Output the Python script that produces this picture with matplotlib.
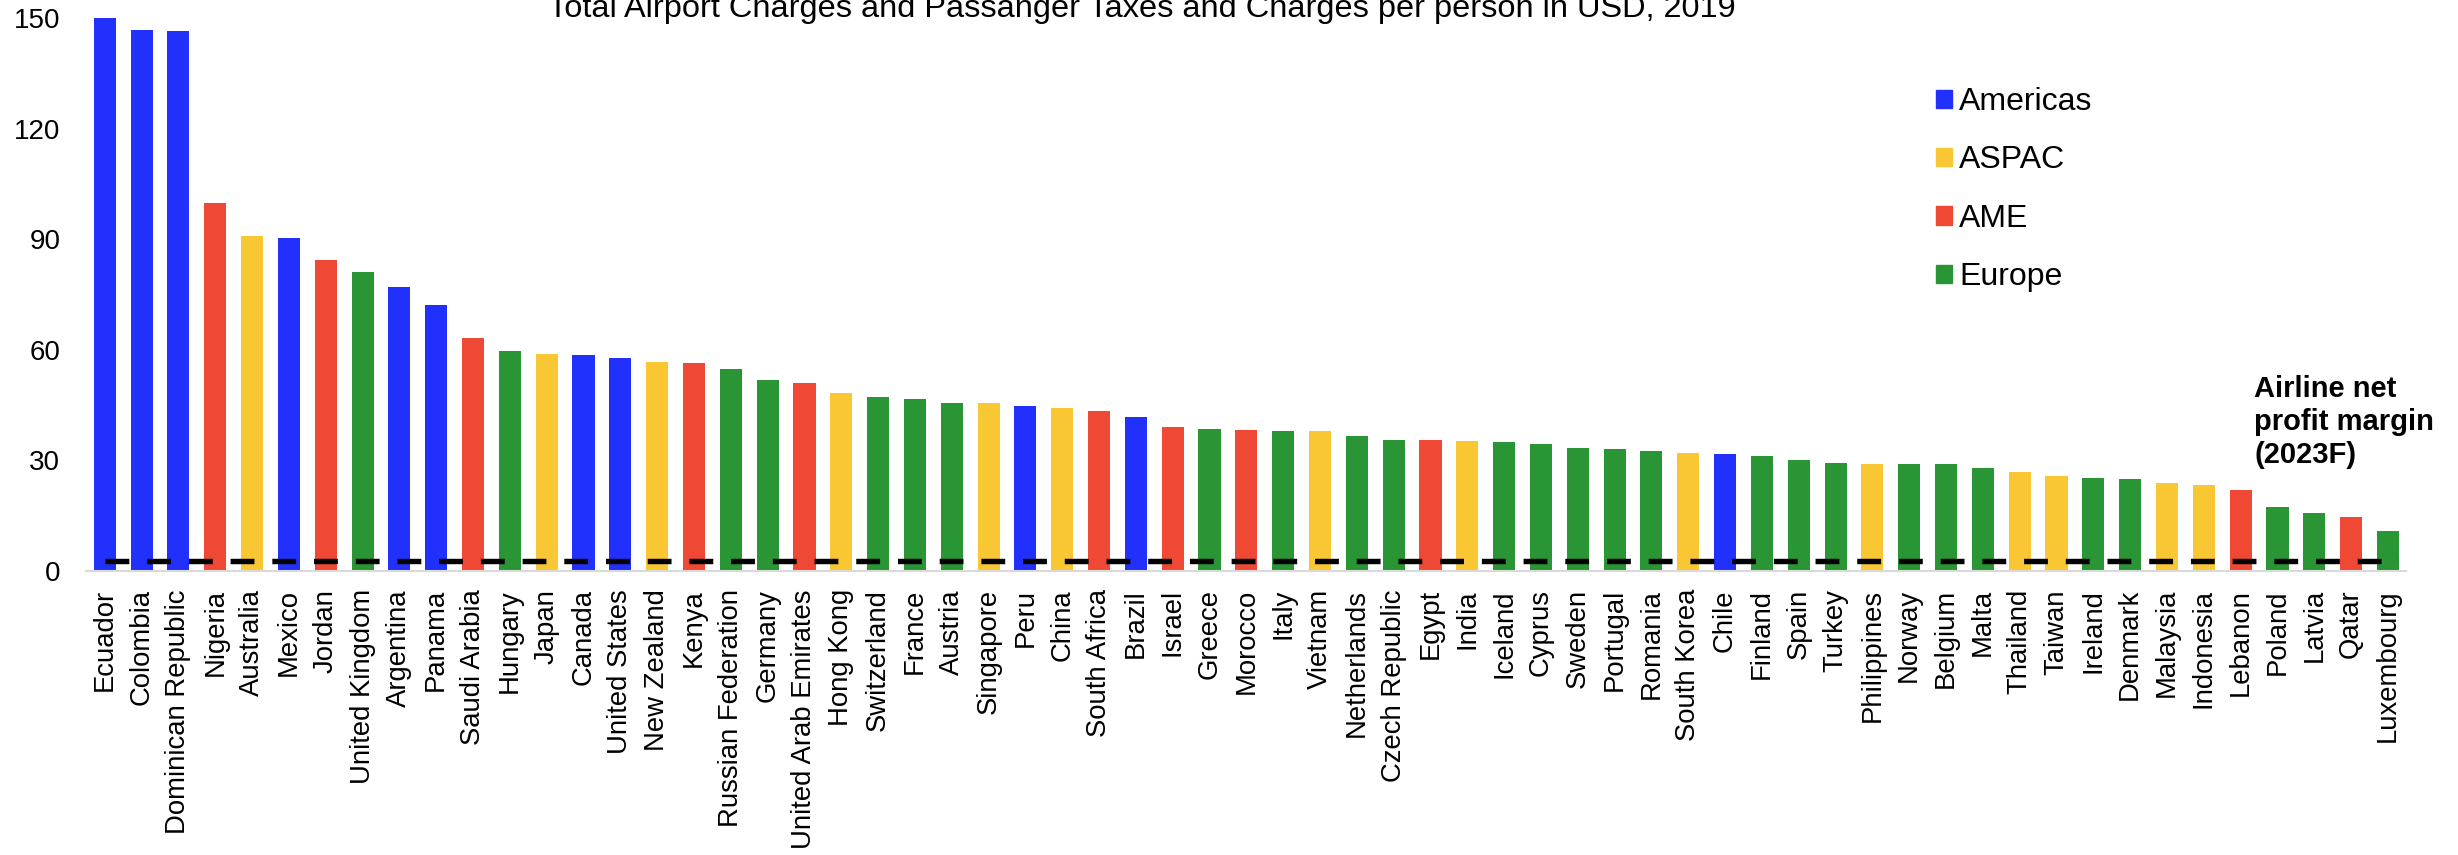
import matplotlib
matplotlib.use("Agg")
import matplotlib.pyplot as plt
import matplotlib.patches as mpatches
import numpy as np

plt.rcParams['font.family'] = ['Liberation Sans', 'DejaVu Sans']

# ─────────────────────────────────────────────────────────────
# data
# ─────────────────────────────────────────────────────────────
countries = [
    "Ecuador", "Colombia", "Dominican Republic", "Nigeria", "Australia",
    "Mexico", "Jordan", "United Kingdom", "Argentina", "Panama",
    "Saudi Arabia", "Hungary", "Japan", "Canada", "United States",
    "New Zealand", "Kenya", "Russian Federation", "Germany", "United Arab Emirates",
    "Hong Kong", "Switzerland", "France", "Austria", "Singapore",
    "Peru", "China", "South Africa", "Brazil", "Israel",
    "Greece", "Morocco", "Italy", "Vietnam", "Netherlands",
    "Czech Republic", "Egypt", "India", "Iceland", "Cyprus",
    "Sweden", "Portugal", "Romania", "South Korea", "Chile",
    "Finland", "Spain", "Turkey", "Philippines", "Norway",
    "Belgium", "Malta", "Thailand", "Taiwan", "Ireland",
    "Denmark", "Malaysia", "Indonesia", "Lebanon", "Poland",
    "Latvia", "Qatar", "Luxembourg",
]

charges = [
    150.0, 146.7, 146.5, 99.7, 90.8,
    90.3, 84.4, 81.0, 77.0, 72.2,
    63.1, 59.8, 58.8, 58.5, 57.8,
    56.7, 56.5, 54.9, 51.9, 51.1,
    48.3, 47.1, 46.7, 45.6, 45.5,
    44.8, 44.2, 43.3, 41.7, 39.1,
    38.5, 38.2, 38.1, 38.1, 36.7,
    35.4, 35.4, 35.2, 34.9, 34.4,
    33.3, 33.1, 32.6, 32.1, 31.7,
    31.2, 30.2, 29.2, 29.0, 29.0,
    29.0, 27.9, 26.9, 25.9, 25.1,
    25.0, 24.0, 23.4, 22.1, 17.4,
    15.6, 14.7, 10.9,
]

regions = [
    "Americas", "Americas", "Americas", "AME", "ASPAC",
    "Americas", "AME", "Europe", "Americas", "Americas",
    "AME", "Europe", "ASPAC", "Americas", "Americas",
    "ASPAC", "AME", "Europe", "Europe", "AME",
    "ASPAC", "Europe", "Europe", "Europe", "ASPAC",
    "Americas", "ASPAC", "AME", "Americas", "AME",
    "Europe", "AME", "Europe", "ASPAC", "Europe",
    "Europe", "AME", "ASPAC", "Europe", "Europe",
    "Europe", "Europe", "Europe", "ASPAC", "Americas",
    "Europe", "Europe", "Europe", "ASPAC", "Europe",
    "Europe", "Europe", "ASPAC", "ASPAC", "Europe",
    "Europe", "ASPAC", "ASPAC", "AME", "Europe",
    "Europe", "AME", "Europe",
]

region_names = ["Americas", "ASPAC", "AME", "Europe"]
region_colors = ["#2131FB", "#F9C733", "#EF4834", "#2A9535"]

net_margin = 2.8  # airline net profit margin 2023F

y_ticks = [0, 30, 60, 90, 120, 150]

# ─────────────────────────────────────────────────────────────
# plot
# ─────────────────────────────────────────────────────────────
W, H = 2458, 855
fig = plt.figure(figsize=(W / 100, H / 100), dpi=100)
ax = fig.add_axes([86 / W, 1 - 571 / H, (2406 - 86) / W, (571 - 18) / H])

cmap = dict(zip(region_names, region_colors))
x = np.arange(len(countries))
ax.bar(x, charges, width=0.6, color=[cmap[r] for r in regions], zorder=2)

ax.plot([0, len(countries) - 0.7], [net_margin, net_margin], color="black",
        lw=3.9, linestyle=(0, (4.4, 3.3)), zorder=3)

ax.set_xlim(-0.51, len(countries) - 0.51)
ax.set_ylim(0, 150)
ax.set_yticks(y_ticks)
ax.set_xticks(x)
ax.set_xticklabels(countries, rotation=90, fontsize=19.8)
ax.tick_params(axis="x", length=0, pad=13)
ax.tick_params(axis="y", length=0, pad=18.5, labelsize=20)

for s in ["top", "right", "left"]:
    ax.spines[s].set_visible(False)
ax.spines["bottom"].set_color("#d9d9d9")
ax.spines["bottom"].set_linewidth(1.5)

handles = [mpatches.Patch(color=c, label=n) for n, c in zip(region_names, region_colors)]
ax.legend(handles=handles, loc="upper left", bbox_to_anchor=(1936 / W, 1 - 87 / H),
          bbox_transform=fig.transFigure, frameon=False, fontsize=23,
          handlelength=0.5, handleheight=0.5, handletextpad=0.22,
          labelspacing=0.89, borderpad=0, borderaxespad=0)

fig.text(548 / W, 1 - 17 / H,
         "Total Airport Charges and Passanger Taxes and Charges per person in USD, 2019",
         fontsize=23.4, ha="left", va="baseline")

fig.text(2254 / W, 1 - 375 / H, "Airline net\nprofit margin\n(2023F)",
         fontsize=21, fontweight="bold", ha="left", va="top", linespacing=1.22)

fig.savefig("out.png", dpi=100)
